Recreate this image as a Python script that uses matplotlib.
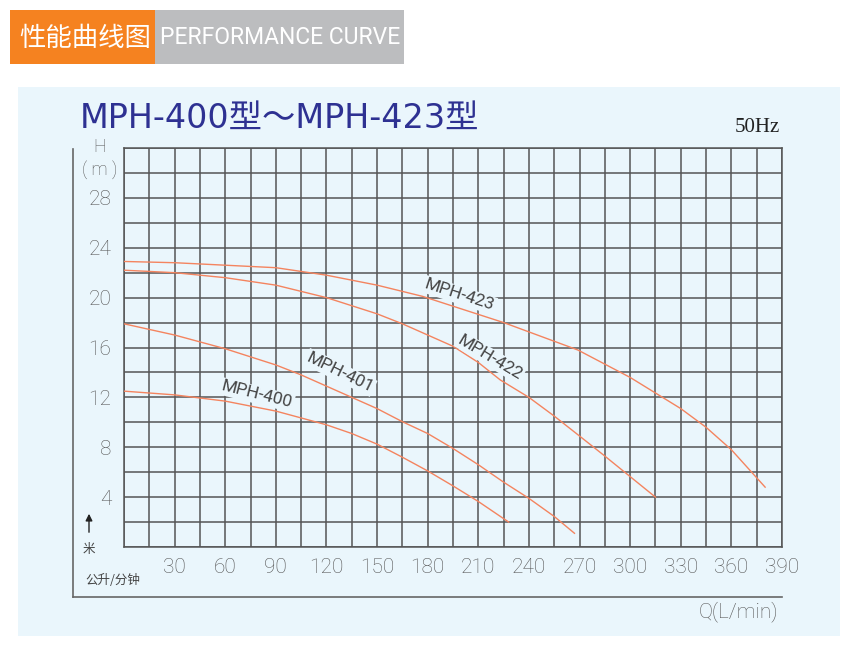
import numpy as np
import matplotlib
matplotlib.use('Agg')
import matplotlib.pyplot as plt
from matplotlib.patches import Rectangle

# 数据 (Q: L/min, H: m)
q_ticks = [30, 60, 90, 120, 150, 180, 210, 240, 270, 300, 330, 360, 390]
h_ticks = [4, 8, 12, 16, 20, 24, 28]

q_423 = [0, 30, 60, 90, 120, 150, 177, 225, 269, 300, 330, 345, 360, 380]
h_423 = [22.9, 22.8, 22.6, 22.4, 21.8, 21.0, 20.1, 18.0, 15.8, 13.6, 11.1,
         9.6, 7.8, 4.8]

q_422 = [0, 30, 60, 90, 120, 150, 165, 195, 210, 223, 240, 255, 270, 284, 315]
h_422 = [22.2, 22.0, 21.6, 21.0, 20.0, 18.7, 17.9, 16.1, 14.8, 13.4, 12.0,
         10.5, 8.9, 7.4, 4.0]

q_401 = [0, 30, 60, 90, 105, 120, 135, 150, 165, 180, 195, 210, 225, 240,
         255, 267]
h_401 = [17.9, 17.0, 15.9, 14.6, 13.8, 12.9, 12.0, 11.1, 10.05, 9.1, 7.9,
         6.6, 5.2, 3.9, 2.45, 1.1]

q_400 = [0, 30, 60, 90, 105, 120, 135, 150, 165, 180, 195, 210, 228]
h_400 = [12.5, 12.2, 11.7, 10.9, 10.35, 9.8, 9.1, 8.25, 7.2, 6.1, 4.9, 3.65,
         2.0]

labels = ['MPH-423', 'MPH-422', 'MPH-401', 'MPH-400']
label_q = [199, 217, 128, 79]
label_h = [20.2, 15.2, 14.0, 12.2]
label_rot = [-18, -31, -26, -14]

panel = '#eaf6fc'
curve_color = '#f4845f'
grid_color = '#555555'
narrow = ['Roboto', 'DejaVu Sans']
cjk = ['Noto Sans CJK SC', 'DejaVu Sans']

W, H = 850, 654
fig = plt.figure(figsize=(8.5, 6.54), dpi=100)
fig.patch.set_facecolor('white')


def fx(px):
    return px / W


def fy(py):
    return 1 - py / H


# 背景面板
fig.patches.append(Rectangle((fx(18), fy(636)), fx(822), (636 - 87) / H,
                             transform=fig.transFigure, facecolor=panel,
                             edgecolor='none', zorder=-2))
# 标题栏
fig.patches.append(Rectangle((fx(10), fy(64)), fx(145), 54 / H,
                             transform=fig.transFigure, facecolor='#f58220',
                             edgecolor='none', zorder=-2))
fig.patches.append(Rectangle((fx(155), fy(64)), fx(249), 54 / H,
                             transform=fig.transFigure, facecolor='#bcbdbf',
                             edgecolor='none', zorder=-2))
fig.text(fx(85), fy(38), '性能曲线图', family=cjk, fontsize=19, color='white',
         ha='center', va='center')
fig.text(fx(280), fy(38), 'PERFORMANCE CURVE', family=narrow, fontsize=16.5,
         color='white', ha='center', va='center')

# 外框线
fig.add_artist(plt.Line2D([fx(73), fx(73)], [fy(149), fy(597)],
                          color='#666666', lw=1.2))
fig.add_artist(plt.Line2D([fx(73), fx(782)], [fy(597), fy(597)],
                          color='#666666', lw=1.2))

ax = fig.add_axes([fx(124), fy(547), fx(658), 399 / H])
ax.set_facecolor(panel)
ax.set_xlim(0, 390)
ax.set_ylim(0, 32)
ax.set_xticks(np.arange(0, 391, 15), minor=True)
ax.set_yticks(np.arange(0, 33, 2), minor=True)
ax.set_xticks(q_ticks)
ax.set_xticklabels([str(v) for v in q_ticks])
ax.set_yticks(h_ticks)
ax.set_yticklabels([str(v) for v in h_ticks])
ax.grid(which='both', color=grid_color, lw=1.1)
ax.tick_params(which='both', length=0)
ax.tick_params(axis='x', pad=8, labelsize=15, labelcolor='#555555')
ax.tick_params(axis='y', pad=9, labelsize=15, labelcolor='#555555')
for t in ax.get_xticklabels() + ax.get_yticklabels():
    t.set_family(narrow)
    t.set_fontweight('light')
for s in ax.spines.values():
    s.set_color(grid_color)
    s.set_linewidth(1.1)

for q, h in [(q_423, h_423), (q_422, h_422), (q_401, h_401), (q_400, h_400)]:
    ax.plot(q, h, color=curve_color, lw=1.0, zorder=3)

for name, lq, lh, rot in zip(labels, label_q, label_h, label_rot):
    ax.text(lq, lh, name, rotation=rot, ha='center', va='center',
            family=narrow, fontsize=12.5, color='#444444', zorder=4,
            rotation_mode='anchor',
            bbox=dict(facecolor=panel, edgecolor='none', pad=1.0))

# 文字
fig.text(fx(80), fy(118), 'MPH-400型～MPH-423型',
         family=['DejaVu Sans', 'Noto Sans CJK SC'], fontsize=24,
         color='#2e3192', ha='left', va='center')
fig.text(fx(780), fy(128), '50Hz', family=['Liberation Serif', 'DejaVu Serif'],
         fontsize=15, color='#222222', ha='right', va='center')
fig.text(fx(100), fy(147), 'H', family=narrow, fontsize=13, color='#555555',
         ha='center', va='center', fontweight='light')
fig.text(fx(100), fy(170), '( m )', family=narrow, fontsize=13,
         color='#555555', ha='center', va='center', fontweight='light')
fig.text(fx(89), fy(549), '米', family=cjk, fontsize=9, color='#444444',
         ha='center', va='center')
ax.annotate('', xy=(fx(89), fy(511)), xytext=(fx(89), fy(535)),
            xycoords='figure fraction', textcoords='figure fraction',
            annotation_clip=False,
            arrowprops=dict(arrowstyle='-|>', color='#222222', lw=1.0,
                            mutation_scale=10))
fig.text(fx(113), fy(580), '公升/分钟', family=cjk, fontsize=9,
         color='#444444', ha='center', va='center')
fig.text(fx(778), fy(612), 'Q(L/min)', family=narrow, fontsize=15,
         color='#555555', ha='right', va='center', fontweight='light')

fig.savefig('out.png', dpi=100)
